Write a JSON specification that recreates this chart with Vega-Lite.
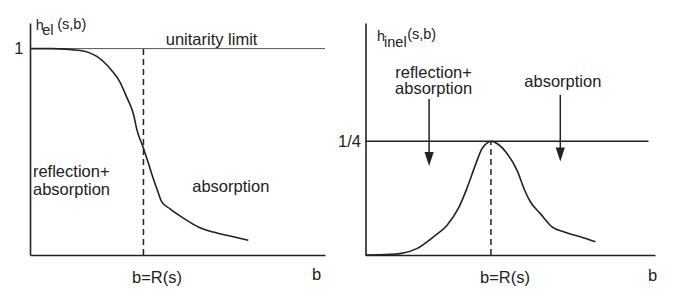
{
  "$schema": "https://vega.github.io/schema/vega-lite/v6.json",
  "background": "white",
  "padding": {"left": 13, "top": 16, "right": 0, "bottom": 0},
  "bounds": "flush",
  "spacing": 40.5,
  "config": {
    "view": {"stroke": null},
    "font": "Liberation Sans",
    "axis": {
      "grid": false,
      "ticks": false,
      "domainColor": "#222",
      "domainWidth": 1.6,
      "labelFont": "Liberation Sans",
      "labelFontSize": 16.5,
      "labelColor": "#222",
      "titleFont": "Liberation Sans",
      "titleFontWeight": "normal",
      "titleFontSize": 16.5,
      "titleColor": "#222"
    }
  },
  "hconcat": [
    {
      "width": 295,
      "height": 232,
      "encoding": {
        "x": {
          "field": "b", "type": "quantitative",
          "scale": {"domain": [0, 2.6], "nice": false, "zero": false},
          "axis": {"values": [1], "labelExpr": "'b=R(s)'", "labelPadding": 14, "labelOffset": 13, "labelFlush": false,
                   "title": "b", "titleX": 286, "titleY": 24, "titleBaseline": "alphabetic", "titleAlign": "center"}
        },
        "y": {
          "field": "h", "type": "quantitative",
          "scale": {"domain": [0, 1.124], "nice": false, "zero": false},
          "axis": {"values": [1], "labelExpr": "'1'", "labelPadding": 7, "labelBaseline": "middle", "labelFlush": false, "title": null}
        }
      },
      "layer": [
        {
          "data": {"values": [{"b": 0, "b2": 2.6, "h": 1}]},
          "mark": {"type": "rule", "color": "#555", "strokeWidth": 1},
          "encoding": {"x2": {"field": "b2"}}
        },
        {
          "data": {"values": [{"b": 1, "h": 0, "h2": 1}]},
          "mark": {"type": "rule", "color": "#222", "strokeWidth": 1.5, "strokeDash": [6, 4]},
          "encoding": {"y2": {"field": "h2"}}
        },
        {
          "data": {"values": [
            {"b": 0, "h": 1.0}, {"b": 0.191, "h": 1.0}, {"b": 0.441, "h": 0.991}, {"b": 0.588, "h": 0.962},
            {"b": 0.720, "h": 0.894}, {"b": 0.793, "h": 0.838}, {"b": 0.852, "h": 0.765}, {"b": 0.911, "h": 0.684},
            {"b": 0.943, "h": 0.605}, {"b": 0.996, "h": 0.523}, {"b": 1.040, "h": 0.450}, {"b": 1.087, "h": 0.369},
            {"b": 1.128, "h": 0.305}, {"b": 1.161, "h": 0.257}, {"b": 1.234, "h": 0.224}, {"b": 1.352, "h": 0.179},
            {"b": 1.483, "h": 0.136}, {"b": 1.615, "h": 0.111}, {"b": 1.763, "h": 0.092}, {"b": 1.924, "h": 0.071}
          ]},
          "mark": {"type": "line", "color": "#222", "strokeWidth": 1.6, "interpolate": "monotone"}
        },
        {
          "data": {"values": [
            {"b": 1.196, "h": 1.0155, "label": "unitarity limit"},
            {"b": 0.026, "h": 0.378, "label": "reflection+"},
            {"b": 0.026, "h": 0.289, "label": "absorption"},
            {"b": 1.43, "h": 0.305, "label": "absorption"}
          ]},
          "mark": {"type": "text", "align": "left", "baseline": "alphabetic", "fontSize": 16.5, "color": "#222", "font": "Liberation Sans"},
          "encoding": {"text": {"field": "label"}}
        },
        {
          "data": {"values": [
            {"b": 0.05, "h": 1.090, "label": "h"},
            {"b": 0.108, "h": 1.065, "label": "el"},
            {"b": 0.24, "h": 1.097, "label": "(s,b)"}
          ]},
          "mark": {"type": "text", "align": "left", "baseline": "alphabetic", "fontSize": 14.5, "color": "#222", "font": "Liberation Sans"},
          "encoding": {"text": {"field": "label"}}
        }
      ]
    },
    {
      "width": 289.5,
      "height": 232,
      "encoding": {
        "x": {
          "field": "b", "type": "quantitative",
          "scale": {"domain": [0, 2.308], "nice": false, "zero": false},
          "axis": {"values": [1], "labelExpr": "'b=R(s)'", "labelPadding": 14, "labelOffset": 13.5, "labelFlush": false,
                   "title": "b", "titleX": 286.5, "titleY": 25, "titleBaseline": "alphabetic", "titleAlign": "center"}
        },
        "y": {
          "field": "h", "type": "quantitative",
          "scale": {"domain": [0, 0.51], "nice": false, "zero": false},
          "axis": {"values": [0.25], "labelExpr": "'1/4'", "labelPadding": 5, "labelBaseline": "middle", "labelFlush": false, "title": null}
        }
      },
      "layer": [
        {
          "data": {"values": [{"b": 0, "b2": 2.256, "h": 0.25}]},
          "mark": {"type": "rule", "color": "#222", "strokeWidth": 1.3},
          "encoding": {"x2": {"field": "b2"}}
        },
        {
          "data": {"values": [{"b": 1, "h": 0, "h2": 0.25}]},
          "mark": {"type": "rule", "color": "#222", "strokeWidth": 1.5, "strokeDash": [6, 4]},
          "encoding": {"y2": {"field": "h2"}}
        },
        {
          "data": {"values": [
            {"b": 0, "h": 0}, {"b": 0.196, "h": 0.0015}, {"b": 0.276, "h": 0.003}, {"b": 0.409, "h": 0.014},
            {"b": 0.542, "h": 0.040}, {"b": 0.649, "h": 0.065}, {"b": 0.741, "h": 0.103}, {"b": 0.808, "h": 0.146},
            {"b": 0.875, "h": 0.197}, {"b": 0.929, "h": 0.234}, {"b": 0.968, "h": 0.246}, {"b": 1.0, "h": 0.25},
            {"b": 1.048, "h": 0.245}, {"b": 1.128, "h": 0.223}, {"b": 1.208, "h": 0.186}, {"b": 1.274, "h": 0.139},
            {"b": 1.314, "h": 0.117}, {"b": 1.394, "h": 0.091}, {"b": 1.487, "h": 0.062}, {"b": 1.580, "h": 0.051},
            {"b": 1.713, "h": 0.040}, {"b": 1.833, "h": 0.029}
          ]},
          "mark": {"type": "line", "color": "#222", "strokeWidth": 1.6, "interpolate": "monotone"}
        },
        {
          "data": {"values": [
            {"b": 0.507, "h": 0.343, "h2": 0.211},
            {"b": 1.553, "h": 0.352, "h2": 0.221}
          ]},
          "mark": {"type": "rule", "color": "#222", "strokeWidth": 1.5},
          "encoding": {"y2": {"field": "h2"}}
        },
        {
          "data": {"values": [
            {"b": 0.507, "h": 0.211},
            {"b": 1.553, "h": 0.221}
          ]},
          "mark": {"type": "point", "shape": "M-0.65,-1L0.65,-1L0,1Z", "filled": true, "size": 200, "color": "#222", "opacity": 1}
        },
        {
          "data": {"values": [
            {"b": 0.543, "h": 0.390, "label": "reflection+"},
            {"b": 0.543, "h": 0.353, "label": "absorption"},
            {"b": 1.573, "h": 0.369, "label": "absorption"}
          ]},
          "mark": {"type": "text", "align": "center", "baseline": "alphabetic", "fontSize": 16.5, "color": "#222", "font": "Liberation Sans"},
          "encoding": {"text": {"field": "label"}}
        },
        {
          "data": {"values": [
            {"b": 0.092, "h": 0.4705, "label": "h"},
            {"b": 0.148, "h": 0.457, "label": "inel"},
            {"b": 0.332, "h": 0.474, "label": "(s,b)"}
          ]},
          "mark": {"type": "text", "align": "left", "baseline": "alphabetic", "fontSize": 14.5, "color": "#222", "font": "Liberation Sans"},
          "encoding": {"text": {"field": "label"}}
        }
      ]
    }
  ]
}
